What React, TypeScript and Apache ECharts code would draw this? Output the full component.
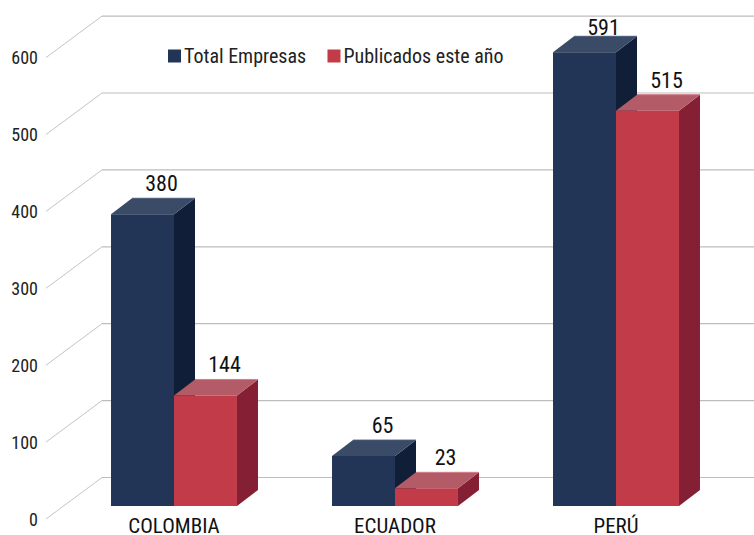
import React, { useEffect, useRef } from "react";
import * as echarts from "echarts";

const categories = ["COLOMBIA", "ECUADOR", "PERÚ"];
const totalEmpresas = [380, 65, 591];
const publicados = [144, 23, 515];
const yTicks = [0, 100, 200, 300, 400, 500, 600];
const seriesNames = ["Total Empresas", "Publicados este año"];

const FONT = 'Roboto, sans-serif';
const DX = 21;
const DY = -16;
const WALL_DX = 56;
const WALL_DY = -41.5;

const navy = { front: "#233556", top: "#3a4b68", side: "#111e38", edge: "#4a5a78" };
const red = { front: "#c23b48", top: "#b35c68", side: "#851f33", edge: "#cf7f88" };

function barRenderer(pal: typeof navy, side: number) {
  return (_p: any, api: any) => {
    const cat = api.value(0);
    const val = api.value(1);
    const top = api.coord([cat, val]);
    const base = api.coord([cat, 0]);
    const w = api.size([1, 0])[0] * 0.285;
    const x0 = top[0] + (side === 0 ? -w : 0);
    const x1 = x0 + w;
    const y0 = top[1];
    const y1 = base[1];
    return {
      type: "group",
      children: [
        { type: "polygon", shape: { points: [[x1, y0], [x1 + DX, y0 + DY], [x1 + DX, y1 + DY], [x1, y1]] }, style: { fill: pal.side } },
        { type: "polygon", shape: { points: [[x0, y0], [x0 + DX, y0 + DY], [x1 + DX, y0 + DY], [x1, y0]] }, style: { fill: pal.top } },
        { type: "line", shape: { x1: x0 + DX, y1: y0 + DY, x2: x1 + DX, y2: y0 + DY }, style: { stroke: pal.edge, lineWidth: 1 } },
        { type: "rect", shape: { x: x0, y: y0, width: w, height: y1 - y0 }, style: { fill: pal.front } },
        {
          type: "text",
          style: {
            text: String(val),
            x: (x0 + x1) / 2 + 19,
            y: Math.max(y0 - 30.5, 27),
            textAlign: "center",
            textVerticalAlign: "middle",
            fontFamily: FONT,
            fontSize: 22,
            fill: "#111",
          },
        },
      ],
    };
  };
}

function wallRenderer(_p: any, api: any) {
  const p = api.coord([0, api.value(0)]);
  const left = _p.coordSys.x;
  const bx = left + WALL_DX;
  const by = p[1] + WALL_DY;
  return {
    type: "group",
    children: [
      { type: "line", shape: { x1: left, y1: p[1], x2: bx, y2: by }, style: { stroke: "#c4c4c4", lineWidth: 1 } },
      { type: "line", shape: { x1: bx, y1: by, x2: 760, y2: by }, style: { stroke: "#bdbdbd", lineWidth: 1.2 } },
    ],
  };
}

export default function App() {
  const ref = useRef<HTMLDivElement>(null);
  useEffect(() => {
    const chart = echarts.init(ref.current!, undefined, { renderer: "svg" });
    chart.setOption({
      animation: false,
      backgroundColor: "#ffffff",
      legend: {
        left: 168,
        top: 46,
        padding: 0,
        itemWidth: 13,
        itemHeight: 13,
        itemGap: 5,
        icon: "rect",
        data: seriesNames,
        textStyle: { fontFamily: FONT, fontSize: 20, color: "#222", padding: [0, 0, 0, -2] },
      },
      grid: [
        { left: 63.5, width: 663, top: 45.4, height: 460.6, outerBoundsMode: "none" },
        { left: 46, width: 663, top: 57.6, height: 461.4, outerBoundsMode: "none" },
      ],
      xAxis: [
        {
          type: "category",
          gridIndex: 0,
          data: categories,
          axisLine: { show: false },
          axisTick: { show: false },
          axisLabel: { fontFamily: FONT, fontSize: 21, color: "#111", margin: 9 },
        },
        { type: "category", gridIndex: 1, data: categories, show: false },
      ],
      yAxis: [
        { type: "value", gridIndex: 0, min: 0, max: 600, interval: 100, show: false },
        {
          type: "value",
          gridIndex: 1,
          min: 0,
          max: 600,
          interval: 100,
          splitLine: { show: false },
          axisLine: { show: false },
          axisTick: { show: false },
          axisLabel: { fontFamily: FONT, fontSize: 18, color: "#222", margin: 8, padding: [2, 0, 0, 0] },
        },
      ],
      series: [
        {
          type: "custom",
          name: "walls",
          xAxisIndex: 1,
          yAxisIndex: 1,
          z: 1,
          silent: true,
          renderItem: wallRenderer,
          encode: { y: 0 },
          data: yTicks.map((v) => [v]),
        },
        {
          type: "custom",
          name: seriesNames[0],
          z: 2,
          itemStyle: { color: navy.front },
          renderItem: barRenderer(navy, 0),
          encode: { x: 0, y: 1 },
          data: totalEmpresas.map((v, i) => [i, v]),
        },
        {
          type: "custom",
          name: seriesNames[1],
          z: 3,
          itemStyle: { color: red.front },
          renderItem: barRenderer(red, 1),
          encode: { x: 0, y: 1 },
          data: publicados.map((v, i) => [i, v]),
        },
      ],
    });
    return () => chart.dispose();
  }, []);
  return (
    <>
      <style>{`svg text { font-stretch: 75% !important; }`}</style>
      <div ref={ref} style={{ position: "absolute", left: 0, top: 0, width: 754, height: 535, overflow: "hidden" }} />
    </>
  );
}
